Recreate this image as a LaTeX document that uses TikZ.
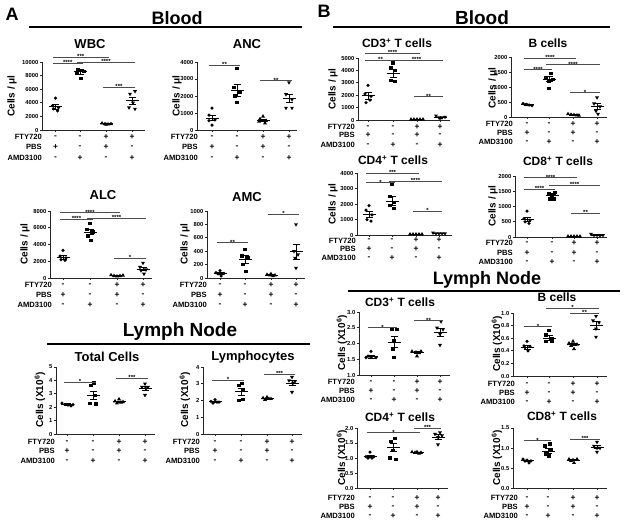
\documentclass[tikz,border=0pt]{standalone}
\usepackage{fontspec}
\setmainfont{Liberation Sans}
\usetikzlibrary{shapes.geometric}
\newcommand\fs[1]{\fontsize{#1}{#1}\selectfont\bfseries}
\tikzset{
 every node/.style={inner sep=0pt},
 axl/.style={line width=0.9pt, draw=black!85},
 tkl/.style={font=\fs{5.8}, anchor=east, inner sep=0.8pt},
 mln/.style={line width=0.8pt},
 sgl/.style={line width=0.9pt, draw=black!70},
 str/.style={font=\fs{6}, anchor=south, yshift=-1.8pt},
 dc/.style={circle, fill=black, minimum size=3.5pt},
 ds/.style={rectangle, fill=black, minimum size=3.3pt},
 du/.style={regular polygon, regular polygon sides=3, fill=black, minimum size=4.6pt},
 dd/.style={regular polygon, regular polygon sides=3, shape border rotate=180, fill=black, minimum size=4.6pt},
 rl/.style={font=\fs{7.6}, anchor=east},
 rs/.style={font=\fs{8.4}},
 ttl/.style={font=\fs{13}},
 ttlb/.style={font=\fs{12}},
 ylab/.style={font=\fs{10}, rotate=90},
 hdr/.style={font=\fs{18}},
 uline/.style={line width=1.2pt},
}
\newcommand\pts[3]{\foreach \v/\d in {#3}{\node[#2] at ({#1+\d},\v) {};}}
\newcommand\ms[3]{%
 \draw[mln] ({#1-6.5},#2) -- ({#1+6.5},#2);
 \draw[mln] (#1,{#2-#3}) -- (#1,{#2+#3});
 \draw[mln] ({#1-3.5},{#2-#3}) -- ({#1+3.5},{#2-#3});
 \draw[mln] ({#1-3.5},{#2+#3}) -- ({#1+3.5},{#2+#3});}
\newcommand\sg[4]{\draw[sgl] ({#1-3},#3) -- ({#2+3},#3) node[midway,str]{#4};}
\newcommand\yax[3]{\draw[axl] (0,#1) -- (0,#2);
 \foreach \v/\l in {#3}{\draw[axl] (0,\v) -- (-2.5,\v) node[tkl]{\l};}}
\newcommand\xax[3]{\draw[axl] (0,#1) -- (#2,#1);
 \foreach \g in {#3}{\draw[axl] (\g,#1) -- ++(0pt,-2pt);}}
\newcommand\rws[8]{%
 \node[rl] at (#1,#2) {FTY720};
 \node[rl] at (#1,#3) {PBS};
 \node[rl] at (#1,#4) {AMD3100};
 \node[rs] at (#5,#2) {-}; \node[rs] at (#6,#2) {-}; \node[rs] at (#7,#2) {+}; \node[rs] at (#8,#2) {+};
 \node[rs] at (#5,#3) {+}; \node[rs] at (#6,#3) {-}; \node[rs] at (#7,#3) {+}; \node[rs] at (#8,#3) {-};
 \node[rs] at (#5,#4) {-}; \node[rs] at (#6,#4) {+}; \node[rs] at (#7,#4) {-}; \node[rs] at (#8,#4) {+};}
\begin{document}
\begin{tikzpicture}[x=1pt,y=-1pt]
\useasboundingbox[fill=white] (0,0) rectangle (626,523);
% headers
\node[hdr] (hA) at (12,14) {A};
\node[hdr] (hB) at (324,11) {B};
\node[hdr] (bA) at (177,18) {Blood};
\draw[uline] (29,27) -- (302,27);
\node[hdr,font=\fs{19}] (bB) at (482,18) {Blood};
\draw[uline] (333,27) -- (610,27);
\node[hdr,font=\fs{19}] (lA) at (180,332) {Lymph Node};
\draw[uline] (47,344) -- (310,344);
\node[hdr] (lB) at (487,280) {Lymph Node};
\draw[uline] (348,291) -- (620,291);

% ---------- WBC
\node[ttl] (t1) at (90,44) {WBC};
\node[ylab] (y1) at (12,96) {Cells / μl};
\begin{scope}[shift={(42,130)}, y={(0pt,6.8pt)}]
\yax{0}{10}{0/0,2/2000,4/4000,6/6000,8/8000,10/10000}
\xax{0}{103}{13.5,38,64,90}
\pts{13.5}{dc}{4.7/0,3.6/-3,3.3/3,3.1/-2,2.8/2}
\pts{38}{ds}{8.9/-2,8.8/2,8.6/4,8.3/-3,7.6/1}
\pts{64}{du}{1.0/-4,0.9/-1,0.85/2,0.9/5,0.8/0}
\pts{90}{dd}{5.7/3,5.3/-2,4.0/1,3.3/-3,3.1/3}
\ms{13.5}{3.4}{0.35}\ms{38}{8.55}{0.3}\ms{64}{0.9}{0.05}\ms{90}{4.3}{0.5}
\sg{13.5}{64}{10.7}{***}\sg{13.5}{38}{9.8}{****}\sg{38}{90}{10.0}{****}\sg{64}{90}{6.3}{***}
\end{scope}
\rws{42}{137}{147}{158}{55.5}{80}{106}{132}

% ---------- ANC
\node[ttl] (t2) at (247,44) {ANC};
\node[ylab] (y2) at (177,96) {Cells / μl};
\begin{scope}[shift={(197,130)}, y={(0pt,17pt)}]
\yax{0}{4}{0/0,1/1000,2/2000,3/3000,4/4000}
\xax{0}{100}{15,40,66,92}
\pts{15}{dc}{1.28/0,0.88/-3,0.59/3,0.55/-3,0.29/0}
\pts{40}{ds}{3.63/0,2.5/-3,2.2/3,2.0/-2,1.6/0}
\pts{66}{du}{0.8/0,0.65/-3,0.55/3,0.5/-4,0.4/2}
\pts{92}{dd}{2.8/0,2.1/-3,1.8/3,1.3/-3,1.3/3}
\ms{15}{0.69}{0.15}\ms{40}{2.35}{0.35}\ms{66}{0.57}{0.08}\ms{92}{1.85}{0.25}
\sg{15}{40}{3.82}{**}\sg{66}{92}{2.9}{**}
\end{scope}
\rws{198}{137}{147}{158}{212}{237}{263}{289}

% ---------- ALC
\node[ttl] (t3) at (103,195) {ALC};
\node[ylab] (y3) at (25,244) {Cells / μl};
\begin{scope}[shift={(50,278)}, y={(0pt,8.375pt)}]
\yax{0}{8}{0/0,2/2000,4/4000,6/6000,8/8000}
\xax{0}{102}{13,40,67,93}
\pts{13}{dc}{3.3/0,2.6/-3,2.4/3,2.2/-2,2.1/2}
\pts{40}{ds}{6.5/0,5.8/-3,5.5/3,5.0/-2,4.5/1}
\pts{67}{du}{0.35/-6,0.25/-3,0.2/0,0.25/3,0.3/6}
\pts{93}{dd}{1.8/0,1.3/-3,1.0/3,0.9/-2,0.5/1}
\ms{13}{2.45}{0.25}\ms{40}{5.5}{0.35}\ms{67}{0.27}{0.03}\ms{93}{1.05}{0.2}
\sg{13}{67}{7.8}{****}\sg{13}{40}{7.0}{****}\sg{40}{93}{7.1}{****}\sg{67}{93}{2.35}{*}
\end{scope}
\rws{52}{285}{295}{305}{63}{90}{117}{143}

% ---------- AMC
\node[ttl] (t4) at (247,197) {AMC};
\node[ylab] (y4) at (185,244) {Cells / μl};
\begin{scope}[shift={(207,278)}, y={(0pt,6.7pt)}]
\yax{0}{10}{0/0,2/200,4/400,6/600,8/800,10/1000}
\xax{0}{98}{13,38,64,89}
\pts{13}{dc}{1.1/0,0.8/-4,0.7/4,0.6/-2,0.3/1}
\pts{38}{ds}{4.3/0,3.3/-3,3.0/3,2.0/-2,1.0/1}
\pts{64}{du}{0.6/0,0.5/-4,0.4/4,0.4/-1,0.3/2}
\pts{89}{dd}{8.0/0,4.0/-2,3.5/2,3.0/-1,1.5/0}
\ms{13}{0.7}{0.15}\ms{38}{2.75}{0.55}\ms{64}{0.45}{0.08}\ms{89}{3.95}{1.1}
\sg{13}{38}{5.27}{**}\sg{64}{89}{9.55}{*}
\end{scope}
\rws{207}{285}{295}{305}{220}{245}{271}{296}

% ---------- Total cells
\node[ttl] (t5) at (107,357) {Total Cells};
\node[ylab] (y5) at (40,400) {Cells (X10\textsuperscript{6})};
\begin{scope}[shift={(56,434)}, y={(0pt,13.4pt)}]
\yax{0}{5}{0/0,1/1,2/2,3/3,4/4,5/5}
\xax{0}{99}{11,37,63,89}
\pts{11}{dc}{2.3/-5,2.2/-2,2.15/1,2.1/4,2.2/6}
\pts{37}{ds}{3.8/1,3.6/-2,2.9/2,2.3/-3,2.25/3}
\pts{63}{du}{2.6/0,2.45/-4,2.4/4,2.3/-2,2.35/2}
\pts{89}{dd}{3.75/0,3.5/-3,3.5/3,3.4/1,2.9/0}
\ms{11}{2.2}{0.05}\ms{37}{2.9}{0.3}\ms{63}{2.4}{0.06}\ms{89}{3.4}{0.15}
\sg{11}{37}{3.86}{*}\sg{63}{89}{4.15}{***}
\end{scope}
\rws{55}{442}{451}{461}{67}{93}{119}{145}

% ---------- Lymphocytes
\node[ttl] (t6) at (253,357) {Lymphocytes};
\node[ylab] (y6) at (185,400) {Cells (X10\textsuperscript{6})};
\begin{scope}[shift={(203,434)}, y={(0pt,16.75pt)}]
\yax{0}{4}{0/0,1/1,2/2,3/3,4/4}
\xax{0}{99}{12,38,64,89}
\pts{12}{dc}{2.05/0,1.95/-4,1.9/4,1.85/-2,1.9/2}
\pts{38}{ds}{3.03/1,2.9/-2,2.6/2,2.0/-2,2.05/2}
\pts{64}{du}{2.2/0,2.15/-4,2.1/4,2.05/-2,2.1/2}
\pts{89}{dd}{3.4/0,3.2/-3,3.15/3,3.05/1,2.5/0}
\ms{12}{1.92}{0.04}\ms{38}{2.53}{0.2}\ms{64}{2.1}{0.03}\ms{89}{3.05}{0.15}
\sg{12}{38}{3.22}{*}\sg{64}{89}{3.58}{***}
\end{scope}
\rws{200}{442}{451}{461}{215}{241}{267}{292}

% ---------- CD3 blood
\node[ttlb] (t7) at (397,43) {CD3\textsuperscript{+} T cells};
\node[ylab] (y7) at (333,89) {Cells / μl};
\begin{scope}[shift={(358,120)}, y={(0pt,12.4pt)}]
\yax{0}{5}{0/0,1/1000,2/2000,3/3000,4/4000,5/5000}
\xax{0}{92}{10,35,59,82}
\pts{10}{dc}{2.8/0,2.1/-3,1.9/3,1.6/2,1.4/-2}
\pts{35}{ds}{4.6/0,4.2/-2,4.0/2,3.2/-2,3.1/2}
\pts{59}{du}{0.05/-6,0.05/-3,0.05/0,0.05/3,0.05/6}
\pts{82}{dd}{0.35/-4,0.2/-1,0.2/2,0.25/5,0.15/0}
\ms{10}{1.95}{0.25}\ms{35}{3.75}{0.3}\ms{59}{0.05}{0.01}\ms{82}{0.22}{0.03}
\sg{10}{59}{5.38}{****}\sg{10}{35}{4.84}{**}\sg{35}{82}{4.84}{****}\sg{59}{82}{1.88}{**}
\end{scope}
\rws{355}{127}{135}{145}{368}{393}{417}{440}

% ---------- B blood
\node[ttlb] (t8) at (548,43) {B cells};
\node[ylab] (y8) at (493,88) {Cells / μl};
\begin{scope}[shift={(511,117)}, y={(0pt,30pt)}]
\yax{0}{2}{0/0,0.5/500,1/1000,1.5/1500,2/2000}
\xax{0}{96}{16,38,62,86}
\pts{16}{dc}{0.45/-4,0.42/-1,0.4/2,0.38/5,0.41/0}
\pts{38}{ds}{1.45/2,1.3/-3,1.25/4,1.2/0,0.95/0}
\pts{62}{du}{0.1/-5,0.08/-2,0.07/1,0.06/4,0.05/6}
\pts{86}{dd}{0.65/0,0.45/-3,0.35/3,0.2/-1,0.1/1}
\ms{16}{0.41}{0.015}\ms{38}{1.27}{0.08}\ms{62}{0.075}{0.01}\ms{86}{0.37}{0.1}
\sg{16}{62}{1.95}{****}\sg{16}{38}{1.57}{****}\sg{38}{86}{1.74}{****}\sg{62}{86}{0.81}{*}
\end{scope}
\rws{513}{124}{133}{142}{527}{549}{573}{597}

% ---------- CD4 blood
\node[ttlb] (t9) at (393,160) {CD4\textsuperscript{+} T cells};
\node[ylab] (y9) at (333,204) {Cells / μl};
\begin{scope}[shift={(357,235)}, y={(0pt,15.5pt)}]
\yax{0}{4}{0/0,1/1000,2/2000,3/3000,4/4000}
\xax{0}{95}{12,35,59,82}
\pts{12}{dc}{1.9/0,1.6/-3,1.3/3,1.0/-2,0.9/2}
\pts{35}{ds}{3.3/0,2.5/-2,2.1/2,1.9/-2,1.7/2}
\pts{59}{du}{0.05/-6,0.05/-3,0.05/0,0.05/3,0.05/6}
\pts{82}{dd}{0.15/-6,0.1/-3,0.1/0,0.1/3,0.1/6}
\ms{12}{1.35}{0.2}\ms{35}{2.2}{0.3}\ms{59}{0.05}{0.01}\ms{82}{0.1}{0.02}
\sg{12}{59}{3.98}{***}\sg{12}{35}{3.37}{*}\sg{35}{82}{3.48}{****}\sg{59}{82}{1.55}{*}
\end{scope}
\rws{356}{240.5}{249}{258}{369}{392}{416}{439}

% ---------- CD8 blood
\node[ttlb] (t10) at (558,161) {CD8\textsuperscript{+} T cells};
\node[ylab] (y10) at (493,206) {Cells / μl};
\begin{scope}[shift={(515,237)}, y={(0pt,30.5pt)}]
\yax{0}{2}{0/0,0.5/500,1/1000,1.5/1500,2/2000}
\xax{0}{92}{12,37,59,82}
\pts{12}{dc}{0.85/0,0.6/-3,0.55/3,0.5/-2,0.45/2}
\pts{37}{ds}{1.45/3,1.42/-3,1.38/0,1.25/-2,1.23/2}
\pts{59}{du}{0.02/-6,0.02/-3,0.02/0,0.02/3,0.02/6}
\pts{82}{dd}{0.1/-6,0.06/-3,0.06/0,0.05/3,0.06/6}
\ms{12}{0.58}{0.06}\ms{37}{1.35}{0.05}\ms{59}{0.02}{0.005}\ms{82}{0.06}{0.01}
\sg{12}{59}{1.945}{****}\sg{12}{37}{1.57}{****}\sg{37}{82}{1.70}{****}\sg{59}{82}{0.777}{**}
\end{scope}
\rws{513}{243}{253}{262}{527}{552}{574}{597}

% ---------- LN CD3
\node[ttlb] (t11) at (400,302) {CD3\textsuperscript{+} T cells};
\node[ylab] (y11) at (342,343) {Cells (X10\textsuperscript{6})};
\begin{scope}[shift={(359,406.5)}, y={(0pt,31.5pt)}]
\yax{1}{3}{1/1.0,1.5/1.5,2/2.0,2.5/2.5,3/3.0}
\xax{1}{91}{12,35,58,81}
\pts{12}{dc}{1.75/0,1.6/-3,1.55/-5,1.55/0,1.55/5}
\pts{35}{ds}{2.45/-2,2.45/3,2.1/0,1.8/-1,1.55/0}
\pts{58}{du}{1.75/-5,1.75/4,1.72/-1,1.7/2,1.6/0}
\pts{81}{dd}{2.7/1,2.5/-3,2.45/3,2.3/0,1.95/0}
\ms{12}{1.58}{0.04}\ms{35}{2.05}{0.17}\ms{58}{1.72}{0.03}\ms{81}{2.35}{0.12}
\sg{12}{35}{2.5}{*}\sg{58}{81}{2.72}{**}
\end{scope}
\rws{355}{382}{391}{400}{371}{394}{417}{440}

% ---------- LN B
\node[ttlb] (t12) at (557,297) {B cells};
\node[ylab] (y12) at (497,344) {Cells (X10\textsuperscript{6})};
\begin{scope}[shift={(513,376)}, y={(0pt,63pt)}]
\yax{0}{1}{0/0.0,0.2/0.2,0.4/0.4,0.6/0.6,0.8/0.8,1/1.0}
\xax{0}{94}{14,36,60,84}
\pts{14}{dc}{0.55/0,0.48/-3,0.47/3,0.45/-2,0.4/1}
\pts{36}{ds}{0.72/0,0.65/-3,0.6/3,0.55/-3,0.55/3}
\pts{60}{du}{0.55/0,0.52/-4,0.5/4,0.48/-2,0.43/1}
\pts{83}{dd}{0.95/0,0.88/-3,0.85/3,0.75/0,0.62/0}
\ms{14}{0.46}{0.03}\ms{36}{0.6}{0.04}\ms{60}{0.5}{0.02}\ms{83}{0.8}{0.06}
\sg{14}{36}{0.78}{*}\sg{36}{83}{1.07}{*}\sg{60}{83}{0.995}{**}
\end{scope}
\rws{515}{384}{393}{402}{527}{549}{573}{597}

% ---------- LN CD4
\node[ttlb] (t13) at (400,417) {CD4\textsuperscript{+} T cells};
\node[ylab] (y13) at (342,458) {Cells (X10\textsuperscript{6})};
\begin{scope}[shift={(357,488)}, y={(0pt,30pt)}]
\yax{0}{2}{0/0.0,0.5/0.5,1/1.0,1.5/1.5,2/2.0}
\xax{0}{91}{13,36,60,81}
\pts{13}{dc}{1.2/0,1.05/-4,1.05/4,1.0/-2,1.0/2}
\pts{36}{ds}{1.65/2,1.55/-2,1.25/0,1.0/-3,0.95/3}
\pts{60}{du}{1.2/-5,1.2/0,1.18/4,1.18/-2,1.15/2}
\pts{81}{dd}{1.85/2,1.8/-3,1.75/4,1.7/0,1.45/0}
\ms{13}{1.05}{0.03}\ms{36}{1.35}{0.13}\ms{60}{1.18}{0.01}\ms{81}{1.7}{0.08}
\sg{13}{60}{1.84}{*}\sg{60}{81}{1.99}{***}
\end{scope}
\rws{355}{498}{507}{516}{370}{393}{417}{438}

% ---------- LN CD8
\node[ttlb] (t14) at (562,416) {CD8\textsuperscript{+} T cells};
\node[ylab] (y14) at (497,458) {Cells (X10\textsuperscript{6})};
\begin{scope}[shift={(513,488)}, y={(0pt,40pt)}]
\yax{0}{1.5}{0/0.0,0.5/0.5,1/1.0,1.5/1.5}
\xax{0}{94}{14,35,60,84}
\pts{14}{dc}{0.72/-4,0.7/0,0.68/4,0.67/-2,0.63/2}
\pts{35}{ds}{1.1/2,1.05/-3,0.95/3,0.85/-2,0.8/1}
\pts{60}{du}{0.72/-4,0.72/4,0.7/0,0.68/-2,0.63/1}
\pts{84}{dd}{1.15/0,1.05/-3,1.0/3,1.0/0,0.9/0}
\ms{14}{0.68}{0.02}\ms{35}{0.92}{0.06}\ms{60}{0.7}{0.02}\ms{84}{1.02}{0.04}
\sg{14}{35}{1.18}{*}\sg{60}{84}{1.22}{***}
\end{scope}
\rws{518}{498}{507}{516}{527}{548}{573}{597}
\end{tikzpicture}
\end{document}
